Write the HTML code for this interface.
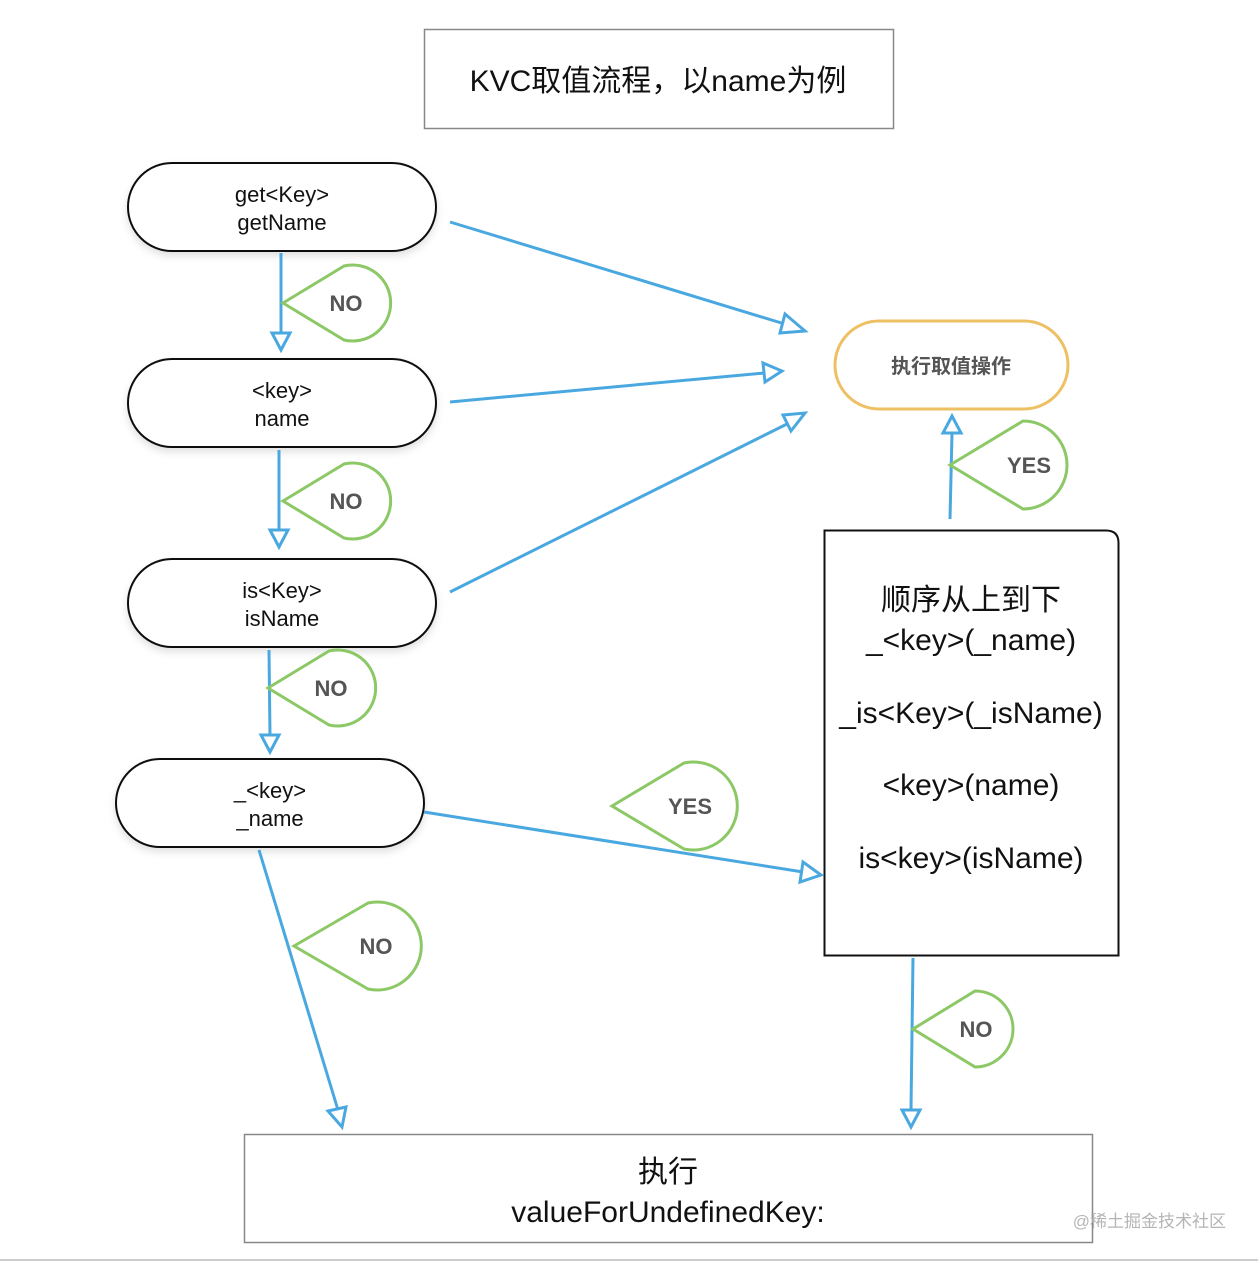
<!DOCTYPE html>
<html><head><meta charset="utf-8"><style>
html,body{margin:0;padding:0;background:#fff;}
svg{display:block}
text{font-family:"Liberation Sans","Noto Sans CJK SC",sans-serif;}
</style></head><body>
<svg width="1258" height="1262" viewBox="0 0 1258 1262" xmlns="http://www.w3.org/2000/svg">
<defs>
<filter id="sh" x="-10%" y="-20%" width="120%" height="150%"><feDropShadow dx="0" dy="4" stdDeviation="4" flood-color="#000" flood-opacity="0.12"/></filter>
</defs>
<rect x="424.5" y="29.5" width="469" height="99" fill="#fff" stroke="#888" stroke-width="1.5"/>
<text x="658" y="91" font-size="30" text-anchor="middle" fill="#111">KVC取值流程，以name为例</text>

<g fill="#fff" stroke="#111" stroke-width="2" filter="url(#sh)">
<rect x="128" y="163" width="308" height="88" rx="44"/>
<rect x="128" y="359" width="308" height="88" rx="44"/>
<rect x="128" y="559" width="308" height="88" rx="44"/>
<rect x="116" y="759" width="308" height="88" rx="44"/>
</g>
<g font-size="22" text-anchor="middle" fill="#111">
<text x="282" y="202">get&lt;Key&gt;</text><text x="282" y="230">getName</text>
<text x="282" y="398">&lt;key&gt;</text><text x="282" y="426">name</text>
<text x="282" y="598">is&lt;Key&gt;</text><text x="282" y="626">isName</text>
<text x="270" y="798">_&lt;key&gt;</text><text x="270" y="826">_name</text>
</g>

<rect x="835" y="321" width="233" height="88" rx="44" fill="#fff" stroke="#eec064" stroke-width="3"/>
<text x="951" y="373" font-size="20" font-weight="bold" text-anchor="middle" fill="#555">执行取值操作</text>

<path d="M824.5 530.5 H1106 Q1118.5 530.5 1118.5 543 V955.5 H824.5 Z" fill="#fff" stroke="#111" stroke-width="2"/>
<g font-size="30" text-anchor="middle" fill="#111">
<text x="971" y="610">顺序从上到下</text>
<text x="971" y="650">_&lt;key&gt;(_name)</text>
<text x="971" y="723">_is&lt;Key&gt;(_isName)</text>
<text x="971" y="795">&lt;key&gt;(name)</text>
<text x="971" y="868">is&lt;key&gt;(isName)</text>
</g>

<rect x="244.5" y="1134.5" width="848" height="108" fill="#fff" stroke="#888" stroke-width="1.5"/>
<text x="668" y="1182" font-size="30" text-anchor="middle" fill="#111">执行</text>
<text x="668" y="1222" font-size="30" text-anchor="middle" fill="#111">valueForUndefinedKey:</text>

<line x1="0" y1="1260" x2="1258" y2="1260" stroke="#ccc" stroke-width="2"/>
<text x="1226" y="1227" font-size="17" text-anchor="end" fill="#b5b5b5">@稀土掘金技术社区</text>

<g stroke="#4aa8e0" stroke-width="3" fill="none" stroke-linejoin="miter">
<line x1="281" y1="253" x2="281" y2="333"/><path d="M272 333 L290 333 L281 350 Z" fill="#fff"/>
<line x1="279" y1="450" x2="279" y2="530"/><path d="M270 530 L288 530 L279 547 Z" fill="#fff"/>
<line x1="269" y1="650" x2="270" y2="735"/><path d="M261 735 L279 735 L270 752 Z" fill="#fff"/>
<line x1="450" y1="222" x2="788" y2="325"/><path d="M785 314 L805 331 L780 333 Z" fill="#fff"/>
<line x1="450" y1="402" x2="764" y2="373"/><path d="M763 363 L782 371 L765 382 Z" fill="#fff"/>
<line x1="450" y1="592" x2="789" y2="423"/><path d="M783 415 L805 413 L791 431 Z" fill="#fff"/>
<line x1="424" y1="812" x2="803" y2="872"/><path d="M803 862 L821 875 L800 882 Z" fill="#fff"/>
<line x1="259" y1="850" x2="338" y2="1110"/><path d="M328 1111 L346 1107 L342 1127 Z" fill="#fff"/>
<line x1="913" y1="958" x2="911" y2="1110"/><path d="M902 1110 L920 1110 L911 1127 Z" fill="#fff"/>
<line x1="950" y1="519" x2="952" y2="433"/><path d="M943 433 L961 433 L952 416 Z" fill="#fff"/>
</g>

<g fill="#fff" stroke="#8cc866" stroke-width="3">
<path d="M283 303 L344 266 A38 38 0 1 1 344 340 Z"/>
<path d="M283 501 L344 464 A38 38 0 1 1 344 538 Z"/>
<path d="M268 688 L329 651 A38 38 0 1 1 329 725 Z"/>
<path d="M612 806 L684 763 A44 44 0 1 1 684 849 Z"/>
<path d="M950 465 L1023 421 A44 44 0 1 1 1023 509 Z"/>
<path d="M294 946 L368 903 A44 44 0 1 1 368 989 Z"/>
<path d="M913 1029 L975 991 A38 38 0 1 1 975 1067 Z"/>
</g>
<g font-size="22" font-weight="bold" fill="#555" text-anchor="middle">
<text x="346" y="311">NO</text>
<text x="346" y="509">NO</text>
<text x="331" y="696">NO</text>
<text x="690" y="814">YES</text>
<text x="1029" y="473">YES</text>
<text x="376" y="954">NO</text>
<text x="976" y="1037">NO</text>
</g>
</svg>
</body></html>
